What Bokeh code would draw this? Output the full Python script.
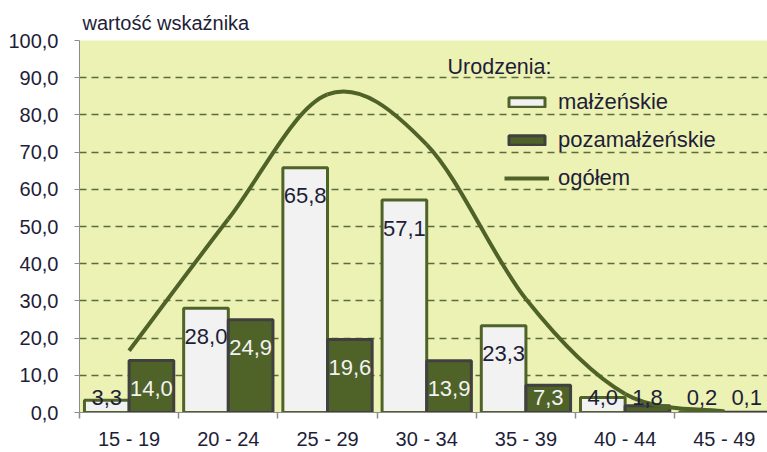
import numpy as np
from bokeh.plotting import figure
from bokeh.models import (Range1d, FixedTicker, ColumnDataSource, Legend, LegendItem, Label)
from bokeh.core.properties import value
from bokeh.embed import file_html
from bokeh.resources import INLINE

# ---- data ----
categories = ["15 - 19", "20 - 24", "25 - 29", "30 - 34", "35 - 39", "40 - 44", "45 - 49"]
malzenskie = [3.3, 28.0, 65.8, 57.1, 23.3, 4.0, 0.2]
pozamalzenskie = [14.0, 24.9, 19.6, 13.9, 7.3, 1.8, 0.1]
ogolem = [16.6, 52.0, 85.5, 72.0, 30.5, 5.0, 0.3]
y_ticks = [0, 10, 20, 30, 40, 50, 60, 70, 80, 90, 100]

FONT = "Liberation Sans"
OLIVE = "#4F6228"
BG = "#ECF1B4"
TXT = "#1E1E38"

n = len(categories)
idx = np.arange(n)
centers = idx + 0.5

p = figure(width=767, height=452, output_backend="svg", toolbar_location=None,
           x_range=Range1d(0, 6.935), y_range=Range1d(0, 100),
           min_border_left=79, min_border_right=0, min_border_top=40, min_border_bottom=38)
p.background_fill_color = BG
p.border_fill_color = "white"
p.outline_line_color = None

p.title.text = "wartość wskaźnika"
p.title.text_font = FONT
p.title.text_font_size = "20px"
p.title.text_font_style = "normal"
p.title.text_color = TXT
p.title.align = "left"
p.title.offset = 3
p.title.standoff = 13

# grid
p.xgrid.visible = False
p.ygrid.ticker = FixedTicker(ticks=y_ticks[1:])
p.ygrid.grid_line_color = "#5A6B3C"
p.ygrid.grid_line_width = 1.3
p.ygrid.grid_line_dash = "7 5"

# y axis
p.yaxis.ticker = FixedTicker(ticks=y_ticks)
p.yaxis.major_label_overrides = {t: f"{t},0" for t in y_ticks}
p.yaxis.major_label_text_font = FONT
p.yaxis.major_label_text_font_size = "20px"
p.yaxis.major_label_text_color = TXT
p.yaxis.major_tick_out = 5
p.yaxis.major_tick_in = 0
p.yaxis.minor_tick_line_color = None
p.yaxis.major_label_standoff = 16
p.yaxis.axis_line_color = "#8C8C8C"
p.yaxis.major_tick_line_color = "#8C8C8C"

# x axis: labels at centers, tick marks at category boundaries
p.xaxis.ticker = FixedTicker(ticks=list(centers), minor_ticks=list(range(n + 1)))
p.xaxis.major_label_overrides = {float(c): lab for c, lab in zip(centers, categories)}
p.xaxis.major_label_text_font = FONT
p.xaxis.major_label_text_font_size = "20px"
p.xaxis.major_label_text_color = TXT
p.xaxis.major_tick_line_color = None
p.xaxis.major_tick_out = 0
p.xaxis.major_tick_in = 0
p.xaxis.minor_tick_out = 6
p.xaxis.minor_tick_in = 0
p.xaxis.minor_tick_line_color = "#8C8C8C"
p.xaxis.minor_tick_line_width = 1.5
p.xaxis.major_label_standoff = 9
p.xaxis.axis_line_color = "#8C8C8C"

# bars
bw = 0.45
src = ColumnDataSource(dict(xm=idx + 0.275, xp=idx + 0.725, m=malzenskie, pz=pozamalzenskie))
r_m = p.vbar(x="xm", top="m", width=bw, bottom=0, source=src,
             fill_color="#F2F2F2", line_color=OLIVE, line_width=3)
r_p = p.vbar(x="xp", top="pz", width=bw, bottom=0, source=src,
             fill_color=OLIVE, line_color="#404040", line_width=3)

# smoothed total line (Catmull-Rom style bezier through the data points)
xs = centers
ys = np.array(ogolem)
xp_ = np.concatenate([[xs[0]], xs, [xs[-1]]])
yp_ = np.concatenate([[ys[0]], ys, [ys[-1]]])
x0 = xs[:-1]; x1 = xs[1:]; y0 = ys[:-1]; y1 = ys[1:]
cx0 = x0 + (xp_[2:-1] - xp_[0:-3]) / 6.0
cy0 = y0 + (yp_[2:-1] - yp_[0:-3]) / 6.0
cx1 = x1 - (xp_[3:] - xp_[1:-2]) / 6.0
cy1 = y1 - (yp_[3:] - yp_[1:-2]) / 6.0
r_l = p.bezier(x0=x0, y0=y0, x1=x1, y1=y1, cx0=cx0, cy0=cy0, cx1=cx1, cy1=cy1,
               line_color=OLIVE, line_width=4)

# data labels
lab_x = list(idx + 0.275) + list(idx + 0.725)
vals = malzenskie + pozamalzenskie
lab_y = [max(v, 11.5) for v in vals]
lab_t = [f"{v:.1f}".replace(".", ",") for v in vals]
lab_c = [TXT] * n + [("#F2F2F2" if v >= 5 else TXT) for v in pozamalzenskie]
lsrc = ColumnDataSource(dict(x=lab_x, y=lab_y, t=lab_t, c=lab_c))
p.text(x="x", y="y", text="t", source=lsrc, text_color="c", text_align="center",
       text_baseline="alphabetic", y_offset=28, text_font=value(FONT), text_font_size="22px")

# legend
legend = Legend(items=[LegendItem(label="małżeńskie", renderers=[r_m]),
                       LegendItem(label="pozamałżeńskie", renderers=[r_p]),
                       LegendItem(label="ogółem", renderers=[r_l])],
                location=(425, 221))
legend.label_text_font = FONT
legend.label_text_font_size = "22px"
legend.label_text_color = TXT
legend.glyph_width = 45
legend.glyph_height = 12
legend.label_standoff = 9
legend.label_height = 20
legend.spacing = 12
legend.padding = 0
legend.margin = 0
legend.background_fill_alpha = 0
legend.border_line_alpha = 0
p.add_layout(legend, "center")

p.add_layout(Label(x=3.71, y=93.0, text="Urodzenia:", text_font=FONT, text_baseline="alphabetic",
                   text_font_size="21.5px", text_color=TXT))

open("out.html", "w").write(file_html(p, INLINE))
